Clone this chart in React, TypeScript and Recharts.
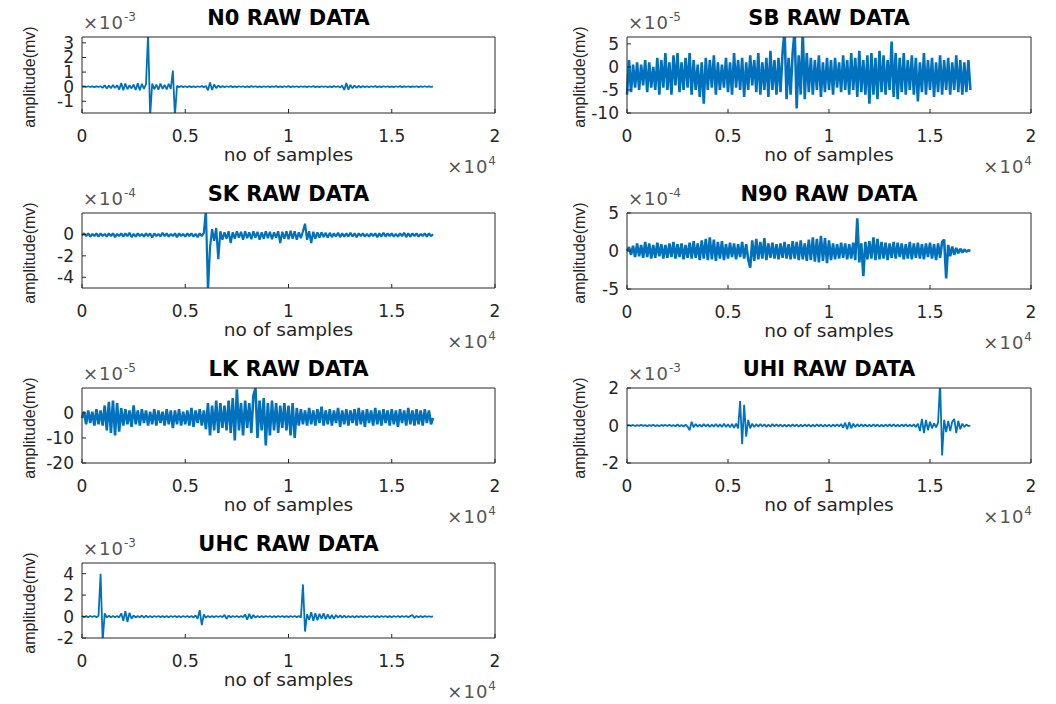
import React from 'react';
import { LineChart, Line, XAxis, YAxis } from 'recharts';

// one stored amplitude per 100 samples, 0 .. 17000
const SAMPLE_STEP = 100;
const X_TICKS = [0, 5000, 10000, 15000, 20000];

// N0, x1e-3 mv
const n0Amp = [
  0, 0.02, -0.02, 0.03, -0.02, 0.02, -0.03, 0.02, -0.02, 0.03,
  -0.08, 0.1, -0.12, 0.08, -0.1, 0.12, -0.09, 0.1, -0.2, 0.25,
  -0.25, 0.22, -0.18, 0.1, -0.12, 0.15, -0.22, 0.24, -0.25, 0.2,
  -0.15, 0.18, 3.6, -2.0, 0.22, -0.18, 0.15, -0.2, 0.22, -0.15,
  0.12, -0.18, 0.2, -0.15, 1.1, -2.0, 0.06, -0.04, 0.05, -0.03,
  0.03, -0.04, 0.04, -0.03, 0.02, -0.04, 0.03, -0.02, 0.04, -0.03,
  0.05, -0.25, 0.28, -0.22, 0.15, -0.1, 0.08, -0.05, 0.04, -0.03,
  0.03, -0.02, 0.04, -0.03, 0.02, -0.03, 0.03, -0.02, 0.03, -0.04,
  0.02, -0.03, 0.04, -0.02, 0.03, -0.03, 0.02, -0.04, 0.03, -0.02,
  0.03, -0.03, 0.02, -0.02, 0.04, -0.03, 0.02, -0.03, 0.03, -0.02,
  0.04, -0.03, 0.02, -0.02, 0.03, -0.04, 0.03, -0.02, 0.02, -0.03,
  0.03, -0.02, 0.04, -0.03, 0.02, -0.03, 0.03, -0.02, 0.03, -0.04,
  0.02, -0.03, 0.04, -0.02, 0.03, -0.05, 0.08, -0.22, 0.25, -0.2,
  0.12, -0.1, 0.08, -0.07, 0.06, -0.05, 0.04, -0.03, 0.03, -0.04,
  0.03, -0.02, 0.04, -0.03, 0.02, -0.03, 0.03, -0.02, 0.03, -0.03,
  0.02, -0.03, 0.03, -0.02, 0.04, -0.03, 0.02, -0.02, 0.03, -0.03,
  0.02, -0.02, 0.03, -0.03, 0.02, -0.02, 0.03, -0.02, 0.02, -0.01,
  0,
];

// SB, x1e-5 mv
const sbAmp = [
  -6, 1.5, -5.5, 0.5, -4.5, 1, -5, 0.5, -4, 1.5,
  -5.5, 1, -4.5, 0, -5, 2, -6, 1.5, -4.5, 3,
  -5, 1, -6, 2.5, -4, 3, -5.5, 1, -5, 2,
  -4.5, 3, -6, 1.5, -5, 0.5, -6.5, 1, -8, 2,
  -5, 1.5, -4.5, 2.5, -6, 1, -5, 0.5, -4.5, 2,
  -5.5, 1, -6, 3, -4.5, 1.5, -5, 2, -6.5, 1,
  -5, 2.5, -4, 1.5, -5.5, 3, -6, 1, -5, 2,
  -6.5, 3.5, -5, 1.5, -6, 2, -5.5, 3, 8, -7,
  2, -6, 3, 8, -9, 2.5, -6, 8, -7, 3,
  -5.5, 2, -6, 1.5, -5, 2.5, -6.5, 1, -5.5, 2,
  -5, 1.5, -6, 2, -4.5, 1, -5.5, 2.5, -5, 1.5,
  -6, 3, -5, 2, -6.5, 3.5, -5.5, 1.5, -6, 2.5,
  -8, 3, -6, 2, -7, 3.5, -5.5, 2.5, -6, 1.5,
  -5, 5.5, -6.5, 3, -7, 2, -5.5, 3, -6, 1.5,
  -5, 2.5, -6, 2, -7.5, 1, -5.5, 3, -6, 1.5,
  -5, 2, -6.5, 1, -5.5, 2.5, -6, 1.5, -5, 2,
  -6, 1, -5, 2.5, -5.5, 1.5, -6, 1, -5.5, 1.5,
  -5,
];

// SK, x1e-4 mv
const skAmp = [
  -0.1, 0.1, -0.15, 0.1, -0.2, 0.05, -0.15, 0.1, -0.2, 0.1,
  -0.15, 0.05, -0.2, 0.1, -0.15, 0.1, -0.25, 0.05, -0.15, 0.1,
  -0.2, 0.1, -0.15, 0.15, -0.25, 0.05, -0.2, 0.1, -0.15, 0.05,
  -0.2, 0.1, -0.15, 0.1, -0.3, 0.1, -0.15, 0.05, -0.2, 0.15,
  -0.15, 0.1, -0.2, 0.05, -0.15, 0.1, -0.25, 0.1, -0.15, 0.05,
  -0.2, 0.1, -0.15, 0.1, -0.2, 0.05, -0.25, 0.1, -0.15, 0.15,
  2.3, -5.3, -1.2, 0.5, -0.6, 0.6, -2.3, 0.3, -0.5, 0.2,
  -0.4, 0.3, -0.8, 0.2, -0.4, 0.3, -0.3, 0.25, -0.5, 0.3,
  -0.35, 0.2, -0.45, 0.3, -0.3, 0.25, -0.5, 0.2, -0.4, 0.3,
  -0.35, 0.25, -0.45, 0.2, -0.3, 0.3, -0.8, 0.25, -0.4, 0.3,
  -0.45, 0.35, -0.4, 0.3, -0.5, 0.2, -0.35, 0.3, 1.0, -0.5,
  0.3, -0.8, 0.25, -0.4, 0.2, -0.3, 0.2, -0.25, 0.15, -0.3,
  0.15, -0.25, 0.1, -0.2, 0.15, -0.25, 0.1, -0.2, 0.1, -0.2,
  0.15, -0.2, 0.1, -0.25, 0.1, -0.15, 0.1, -0.2, 0.05, -0.2,
  0.1, -0.15, 0.1, -0.25, 0.1, -0.2, 0.15, -0.2, 0.1, -0.15,
  0.1, -0.2, 0.05, -0.2, 0.1, -0.15, 0.15, -0.25, 0.1, -0.2,
  0.1, -0.15, 0.1, -0.2, 0.05, -0.15, 0.1, -0.2, 0.1, -0.15,
  0,
];

// N90, x1e-4 mv
const n90Amp = [
  0, 0.5, -0.5, 0.7, -0.8, 1.0, -0.7, 0.8, -0.9, 1.2,
  -0.8, 1.0, -1.0, 0.8, -0.9, 1.1, -0.7, 0.9, -1.0, 0.8,
  -0.9, 1.0, -0.8, 1.2, -1.0, 0.9, -0.8, 1.0, -1.1, 0.8,
  -0.9, 1.1, -1.0, 1.3, -0.9, 1.0, -1.2, 1.4, -1.0, 1.6,
  -1.2, 1.8, -1.1, 1.5, -1.3, 1.2, -1.0, 1.3, -1.2, 0.9,
  -1.0, 1.1, -0.8, 1.0, -1.1, 0.9, -0.8, 1.2, -1.0, 0.9,
  -1.1, -2.2, 1.4, -1.3, 1.6, -1.1, 1.2, -1.0, 1.7, -1.2,
  1.0, -0.9, 1.1, -1.0, 0.9, -1.1, 1.0, -0.9, 1.2, -1.0,
  0.9, -1.1, 1.3, -1.0, 1.2, -1.2, 1.4, -1.1, 1.0, -1.3,
  1.5, -1.2, 1.8, -1.4, 1.6, -1.5, 2.0, -1.3, 1.7, -1.6,
  1.4, -1.2, 1.0, -1.1, 0.9, -1.0, 1.1, -0.9, 1.0, -1.1,
  0.9, -1.0, 1.1, -1.2, 4.3, -1.5, 1.0, -3.3, 1.2, -1.1,
  1.3, -1.0, 1.8, -1.2, 1.6, -1.1, 1.2, -1.0, 1.1, -1.2,
  1.0, -0.9, 1.2, -1.0, 1.1, -0.8, 1.0, -1.1, 0.9, -1.0,
  1.2, -1.1, 1.0, -0.9, 1.1, -1.0, 0.9, -1.1, 1.0, -0.8,
  1.1, -1.0, 0.9, -1.2, 1.0, -0.9, 1.2, 1.5, -3.6, 0.8,
  -0.7, 0.6, -0.5, 0.4, -0.3, 0.3, -0.2, 0.2, -0.1, 0.1,
  0,
];

// LK, x1e-5 mv
const lkAmp = [
  -2, 0.5, -4.5, 1, -4, 0.5, -5, 1.5, -4.5, 1,
  -5, 3, -7, 4.5, -8, 5, -9, 4, -7.5, 2,
  -5, 1.5, -4.5, 1, -5.5, 3, -4.5, 1, -5, 1.5,
  -4, 1, -5, 0.5, -4.5, 1.5, -5, 1, -4, 0.5,
  -5, 1.5, -4.5, 1, -6, 1, -4.5, 1.5, -5, 0.5,
  -4.5, 1, -5, 2, -5.5, 1, -4, 1.5, -5, 1,
  -6.5, 4, -9, 3, -7, 5, -8, 4, -6, 3,
  -7, 5, -8, 6, -11, 9.5, -7, 4, -9, 5,
  -6, 4, -8, 7, 10, -10, 5, -7, 6, -13,
  4, -9, 5, -7, 4, -8, 3, -6, 4, -7,
  3, -9, 4, -10, 2, -5, 1.5, -4.5, 1, -5,
  2, -4.5, 1, -5, 1.5, -4, 2.5, -5, 1, -4.5,
  1.5, -5, 1, -4, 2, -5.5, 1, -4.5, 1.5, -5,
  1, -4, 1.5, -5, 2, -4.5, 1, -5.5, 1.5, -4,
  1, -5, 2, -4.5, 1, -5, 1.5, -4, 1, -5,
  1.5, -4.5, 1, -5.5, 1.5, -4, 1, -5, 2, -4.5,
  1, -5, 1.5, -4.5, 1, -5, 1.5, -4, 1, -4.5,
  -2,
];

// UHI, x1e-3 mv
const uhiAmp = [
  0, 0.02, -0.02, 0.03, -0.03, 0.02, -0.02, 0.03, -0.02, 0.02,
  -0.03, 0.02, -0.02, 0.04, -0.03, 0.02, -0.04, 0.03, -0.02, 0.03,
  -0.03, 0.04, -0.03, 0.02, -0.04, 0.05, -0.04, 0.03, -0.05, 0.04,
  -0.06, -0.25, 0.2, -0.1, 0.08, -0.06, 0.05, -0.06, 0.07, -0.05,
  0.06, -0.07, 0.05, -0.06, 0.08, -0.07, 0.06, -0.08, 0.1, -0.08,
  0.07, -0.1, 0.08, -0.12, 0.1, -0.15, 1.3, -1.0, 1.1, -0.6,
  0.3, -0.15, 0.1, -0.08, 0.07, -0.06, 0.08, -0.05, 0.06, -0.07,
  0.05, -0.06, 0.07, -0.05, 0.06, -0.04, 0.05, -0.06, 0.04, -0.05,
  0.04, -0.05, 0.06, -0.04, 0.05, -0.06, 0.04, -0.05, 0.05, -0.04,
  0.05, -0.06, 0.04, -0.05, 0.06, -0.04, 0.05, -0.06, 0.04, -0.05,
  0.05, -0.06, 0.05, -0.04, 0.06, -0.05, 0.08, -0.12, 0.15, -0.2,
  0.18, -0.15, 0.1, -0.08, 0.07, -0.05, 0.06, -0.04, 0.05, -0.05,
  0.04, -0.05, 0.06, -0.04, 0.05, -0.06, 0.04, -0.05, 0.05, -0.04,
  0.05, -0.04, 0.06, -0.05, 0.04, -0.05, 0.05, -0.04, 0.06, -0.05,
  0.04, -0.05, 0.06, -0.08, 0.1, -0.3, 0.35, -0.4, 0.3, -0.25,
  0.2, -0.15, 0.12, -0.1, 0.15, 2.3, -1.6, 0.3, -0.35, 0.25,
  -0.3, 0.2, 0.35, -0.4, 0.25, -0.2, 0.1, -0.08, 0.05, -0.03,
  0,
];

// UHC, x1e-3 mv
const uhcAmp = [
  0.05, -0.05, 0.04, -0.05, 0.05, -0.04, 0.05, -0.05, 0.06, 4.0,
  -2.3, 0.3, -0.1, 0.08, -0.06, 0.05, -0.06, 0.05, -0.08, 0.3,
  -0.4, 0.5, -0.5, 0.35, -0.2, 0.1, -0.08, 0.06, -0.07, 0.1,
  -0.1, 0.08, -0.06, 0.05, -0.06, 0.05, -0.04, 0.05, -0.05, 0.04,
  -0.05, 0.04, -0.06, 0.05, -0.04, 0.05, -0.05, 0.04, -0.06, 0.05,
  -0.04, 0.05, -0.05, 0.06, -0.08, 0.1, -0.2, 0.6, -0.8, 0.2,
  -0.1, 0.06, -0.05, 0.04, -0.05, 0.05, -0.04, 0.05, -0.06, 0.15,
  -0.2, 0.1, -0.06, 0.05, -0.04, 0.05, -0.06, 0.05, -0.05, 0.2,
  -0.3, 0.25, -0.2, 0.15, -0.1, 0.05, -0.06, 0.04, -0.05, 0.05,
  -0.04, 0.05, -0.06, 0.04, -0.05, 0.05, -0.04, 0.06, -0.05, 0.04,
  -0.05, 0.05, -0.04, 0.05, -0.05, 0.06, -0.1, 3.0, -1.4, 0.2,
  -0.3, 0.4, -0.4, 0.3, -0.35, 0.25, -0.2, 0.3, -0.25, 0.2,
  -0.2, 0.15, -0.2, 0.15, -0.1, 0.12, -0.1, 0.08, -0.1, 0.06,
  -0.06, 0.05, -0.08, 0.06, -0.05, 0.06, -0.05, 0.04, -0.06, 0.05,
  -0.04, 0.05, -0.05, 0.04, -0.06, 0.05, -0.04, 0.05, -0.05, 0.04,
  -0.06, 0.05, -0.04, 0.05, -0.05, 0.06, -0.04, 0.05, -0.05, 0.04,
  0.15, -0.12, 0.06, -0.05, 0.04, -0.05, 0.04, -0.03, 0.03, -0.02,
  0.02,
];

const BLUE = '#0072BD';
const AXIS = '#262626';
const FONT = '"DejaVu Sans", sans-serif';

// room around each plot box for the axes
const LEFT_W = 70;
const TOP_H = 12;
const RIGHT_W = 6;
const BOTTOM_H = 40;

const panels = [
  { title: 'N0 RAW DATA', exp: '-3', amp: n0Amp, domain: [-1.8, 3.4], ticks: [-1, 0, 1, 2, 3], box: { x: 82, y: 37, w: 413, h: 76 }, labelX: 30, lw: 1.8 },
  { title: 'SB RAW DATA', exp: '-5', amp: sbAmp, domain: [-10, 6.5], ticks: [-10, -5, 0, 5], box: { x: 627, y: 37, w: 404, h: 76 }, labelX: 580, lw: 2.6 },
  { title: 'SK RAW DATA', exp: '-4', amp: skAmp, domain: [-5, 2], ticks: [-4, -2, 0], box: { x: 82, y: 213, w: 413, h: 75 }, labelX: 30, lw: 2.2 },
  { title: 'N90 RAW DATA', exp: '-4', amp: n90Amp, domain: [-5, 5], ticks: [-5, 0, 5], box: { x: 627, y: 213, w: 404, h: 76 }, labelX: 580, lw: 2.6 },
  { title: 'LK RAW DATA', exp: '-5', amp: lkAmp, domain: [-20, 10], ticks: [-20, -10, 0], box: { x: 82, y: 388, w: 413, h: 75 }, labelX: 30, lw: 2.6 },
  { title: 'UHI RAW DATA', exp: '-3', amp: uhiAmp, domain: [-2, 2], ticks: [-2, 0, 2], box: { x: 627, y: 388, w: 404, h: 75 }, labelX: 580, lw: 1.8 },
  { title: 'UHC RAW DATA', exp: '-3', amp: uhcAmp, domain: [-2, 5], ticks: [-2, 0, 2, 4], box: { x: 82, y: 563, w: 413, h: 75 }, labelX: 30, lw: 1.8 },
];

const centered = (cx, cy, extra = {}) => ({
  position: 'absolute' as const,
  left: cx,
  top: cy,
  transform: 'translate(-50%, -50%)',
  whiteSpace: 'nowrap' as const,
  lineHeight: 1,
  fontFamily: FONT,
  ...extra,
});

const Multiplier = ({ exp, style }) => (
  <div style={{ position: 'absolute', whiteSpace: 'nowrap', lineHeight: 1, fontFamily: FONT, color: '#555', fontSize: 18, letterSpacing: 1, ...style }}>
    ×10<span style={{ fontSize: 12, position: 'relative', top: -8, letterSpacing: 0 }}>{exp}</span>
  </div>
);

const Panel = ({ p }) => {
  const { x, y, w, h } = p.box;
  const rows = p.amp.map((v, i) => ({ s: i * SAMPLE_STEP, v }));
  const tickStyle = { fill: AXIS, fontSize: 17, fontFamily: FONT };
  return (
    <>
      <div style={{ position: 'absolute', left: x - LEFT_W, top: y - TOP_H }}>
        <LineChart
          width={LEFT_W + w + RIGHT_W}
          height={TOP_H + h + BOTTOM_H}
          data={rows}
          margin={{ top: 0, right: 0, bottom: 0, left: 0 }}
        >
          <XAxis
            dataKey="s"
            type="number"
            domain={[0, 20000]}
            ticks={X_TICKS}
            interval={0}
            height={BOTTOM_H}
            tickSize={-4}
            tickMargin={21}
            tickFormatter={(v) => String(v / 10000)}
            tick={tickStyle}
            axisLine={{ stroke: AXIS }}
            tickLine={{ stroke: AXIS }}
          />
          <XAxis
            xAxisId="top"
            orientation="top"
            dataKey="s"
            type="number"
            domain={[0, 20000]}
            ticks={X_TICKS}
            interval={0}
            height={TOP_H}
            tickSize={-4}
            tick={false}
            axisLine={{ stroke: AXIS }}
            tickLine={{ stroke: AXIS }}
          />
          <YAxis
            type="number"
            domain={p.domain}
            ticks={p.ticks}
            allowDataOverflow
            interval={0}
            width={LEFT_W}
            tickSize={-4}
            tickMargin={12}
            tick={tickStyle}
            axisLine={{ stroke: AXIS }}
            tickLine={{ stroke: AXIS }}
          />
          <YAxis
            yAxisId="right"
            orientation="right"
            type="number"
            domain={p.domain}
            ticks={p.ticks}
            allowDataOverflow
            interval={0}
            width={RIGHT_W}
            tickSize={-4}
            tick={false}
            axisLine={{ stroke: AXIS }}
            tickLine={{ stroke: AXIS }}
          />
          <Line
            dataKey="v"
            stroke={BLUE}
            strokeWidth={p.lw}
            strokeLinejoin="bevel"
            dot={false}
            activeDot={false}
            isAnimationActive={false}
          />
        </LineChart>
      </div>
      <div style={centered(x + w / 2, y - 19, { fontSize: 21, fontWeight: 'bold', color: '#000' })}>{p.title}</div>
      <Multiplier exp={p.exp} style={{ left: x + 1, top: y - 23 }} />
      <div style={centered(x + w / 2, y + h + 42, { fontSize: 18.5, color: AXIS })}>no of samples</div>
      <Multiplier exp="4" style={{ right: 1056 - (x + w + 1), top: y + h + 45 }} />
      <div
        style={centered(p.labelX, y + h / 2 + 2, {
          fontSize: 16,
          fontFamily: '"Liberation Sans", Arial, sans-serif',
          color: AXIS,
          transform: 'translate(-50%, -50%) rotate(-90deg)',
        })}
      >
        amplitude(mv)
      </div>
    </>
  );
};

export default function App() {
  return (
    <div style={{ position: 'absolute', left: 0, top: 0, width: 1056, height: 704, background: '#fff', overflow: 'hidden' }}>
      {panels.map((p) => (
        <Panel key={p.title} p={p} />
      ))}
    </div>
  );
}
